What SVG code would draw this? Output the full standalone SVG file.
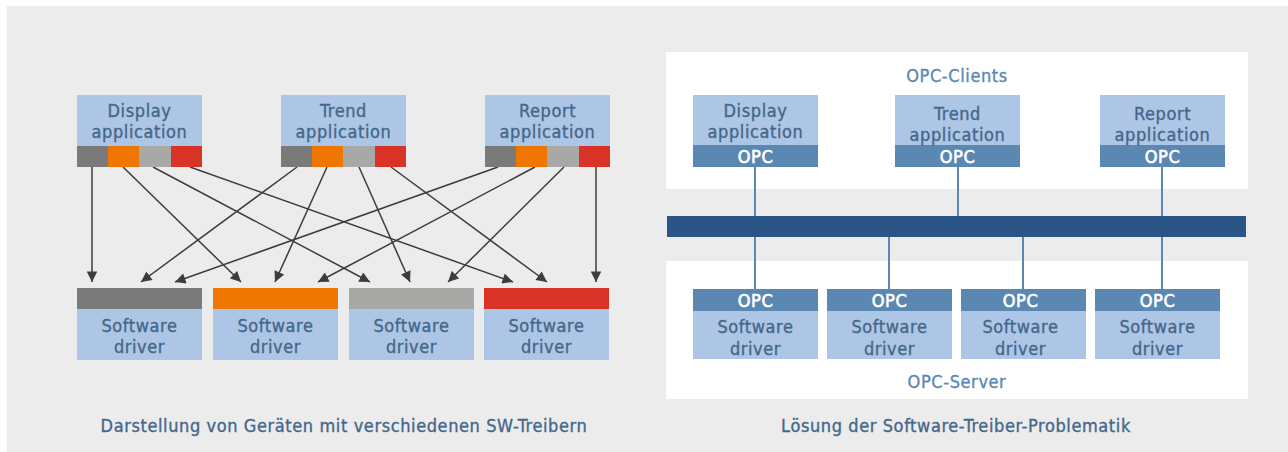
<svg xmlns="http://www.w3.org/2000/svg" width="1288" height="452" viewBox="0 0 1288 452">
<defs>
<style>
.t{font-family:"DejaVu Sans Condensed","DejaVu Sans",sans-serif;font-size:18px;letter-spacing:0.6px;fill:#44678a;stroke:#44678a;stroke-width:0.35px;text-anchor:middle;dominant-baseline:central}
.w{fill:#ffffff;stroke:#ffffff;stroke-width:0.6px}
.hd{fill:#5b88b2;stroke:#5b88b2}
.lb{fill:#adc6e6}
.db{fill:#5b88b2}
.g1{fill:#7a7a7a}
.or{fill:#ef7600}
.g2{fill:#a8a8a7}
.rd{fill:#d93327}
.arr{stroke:#3c3c3c;stroke-width:1.5;fill:none;marker-end:url(#ah)}
.ln{stroke:#5b88b2;stroke-width:2;fill:none}
</style>
<marker id="ah" viewBox="0 0 10 10" refX="10" refY="5" markerWidth="7.5" markerHeight="7" orient="auto" markerUnits="strokeWidth">
<path d="M0,0 L10,5 L0,10 z" fill="#3c3c3c"/>
</marker>
</defs>
<rect x="7" y="6" width="1281" height="446" fill="#ececec"/>
<rect x="666" y="52" width="582" height="137" fill="#ffffff"/>
<rect x="666" y="261" width="582" height="138" fill="#ffffff"/>

<g id="connectors">
<line class="arr" x1="92" y1="167" x2="92" y2="282"/>
<line class="arr" x1="123" y1="167" x2="241" y2="282"/>
<line class="arr" x1="153" y1="167" x2="370" y2="282"/>
<line class="arr" x1="190" y1="167" x2="513" y2="282"/>
<line class="arr" x1="297" y1="167" x2="141" y2="282"/>
<line class="arr" x1="327" y1="167" x2="275" y2="282"/>
<line class="arr" x1="359" y1="167" x2="410" y2="282"/>
<line class="arr" x1="391" y1="167" x2="547" y2="282"/>
<line class="arr" x1="498" y1="167" x2="175" y2="282"/>
<line class="arr" x1="535" y1="167" x2="318" y2="282"/>
<line class="arr" x1="564" y1="167" x2="448" y2="282"/>
<line class="arr" x1="596" y1="167" x2="596" y2="282"/>
<line class="ln" x1="755" y1="167" x2="755" y2="216"/>
<line class="ln" x1="958" y1="167" x2="958" y2="216"/>
<line class="ln" x1="1162" y1="167" x2="1162" y2="216"/>
<line class="ln" x1="755" y1="237" x2="755" y2="289"/>
<line class="ln" x1="889" y1="237" x2="889" y2="289"/>
<line class="ln" x1="1023" y1="237" x2="1023" y2="289"/>
<line class="ln" x1="1162" y1="237" x2="1162" y2="289"/>
</g>

<g id="app-display-left">
<rect class="lb" x="77" y="95" width="125" height="51"/>
<rect class="g1" x="77" y="146" width="31" height="21"/>
<rect class="or" x="108" y="146" width="31" height="21"/>
<rect class="g2" x="139" y="146" width="32" height="21"/>
<rect class="rd" x="171" y="146" width="31" height="21"/>
<text class="t" x="139.5" y="110">Display</text>
<text class="t" x="139.5" y="131">application</text>
</g>
<g id="app-trend-left">
<rect class="lb" x="281" y="95" width="125" height="51"/>
<rect class="g1" x="281" y="146" width="31" height="21"/>
<rect class="or" x="312" y="146" width="31" height="21"/>
<rect class="g2" x="343" y="146" width="32" height="21"/>
<rect class="rd" x="375" y="146" width="31" height="21"/>
<text class="t" x="343.5" y="110">Trend</text>
<text class="t" x="343.5" y="131">application</text>
</g>
<g id="app-report-left">
<rect class="lb" x="485" y="95" width="125" height="51"/>
<rect class="g1" x="485" y="146" width="31" height="21"/>
<rect class="or" x="516" y="146" width="31" height="21"/>
<rect class="g2" x="547" y="146" width="32" height="21"/>
<rect class="rd" x="579" y="146" width="31" height="21"/>
<text class="t" x="547.5" y="110">Report</text>
<text class="t" x="547.5" y="131">application</text>
</g>

<g id="driver-1-left">
<rect class="g1" x="77" y="288" width="125" height="21"/>
<rect class="lb" x="77" y="309" width="125" height="51"/>
<text class="t" x="139.5" y="325">Software</text>
<text class="t" x="139.5" y="346">driver</text>
</g>
<g id="driver-2-left">
<rect class="or" x="213" y="288" width="125" height="21"/>
<rect class="lb" x="213" y="309" width="125" height="51"/>
<text class="t" x="275.5" y="325">Software</text>
<text class="t" x="275.5" y="346">driver</text>
</g>
<g id="driver-3-left">
<rect class="g2" x="349" y="288" width="125" height="21"/>
<rect class="lb" x="349" y="309" width="125" height="51"/>
<text class="t" x="411.5" y="325">Software</text>
<text class="t" x="411.5" y="346">driver</text>
</g>
<g id="driver-4-left">
<rect class="rd" x="484" y="288" width="125" height="21"/>
<rect class="lb" x="484" y="309" width="125" height="51"/>
<text class="t" x="546.5" y="325">Software</text>
<text class="t" x="546.5" y="346">driver</text>
</g>

<text class="t" x="344" y="425">Darstellung von Geräten mit verschiedenen SW-Treibern</text>
<text class="t" x="956" y="425">Lösung der Software-Treiber-Problematik</text>

<text class="t hd" x="957" y="75">OPC-Clients</text>
<text class="t hd" x="957" y="381">OPC-Server</text>

<g id="client-display">
<rect class="lb" x="693" y="95" width="125" height="50"/>
<rect class="db" x="693" y="145" width="125" height="22"/>
<text class="t" x="755.5" y="110">Display</text>
<text class="t" x="755.5" y="131">application</text>
<text class="t w" x="755.5" y="156">OPC</text>
</g>
<g id="client-trend">
<rect class="lb" x="895" y="95" width="125" height="50"/>
<rect class="db" x="895" y="145" width="125" height="22"/>
<text class="t" x="957.5" y="113">Trend</text>
<text class="t" x="957.5" y="134">application</text>
<text class="t w" x="957.5" y="156">OPC</text>
</g>
<g id="client-report">
<rect class="lb" x="1100" y="95" width="125" height="50"/>
<rect class="db" x="1100" y="145" width="125" height="22"/>
<text class="t" x="1162.5" y="113">Report</text>
<text class="t" x="1162.5" y="134">application</text>
<text class="t w" x="1162.5" y="156">OPC</text>
</g>

<g id="bus">
<rect x="667" y="216" width="579" height="21" fill="#2c5587"/>
</g>

<g id="server-1">
<rect class="db" x="693" y="289" width="125" height="22"/>
<rect class="lb" x="693" y="311" width="125" height="48"/>
<text class="t w" x="755.5" y="300">OPC</text>
<text class="t" x="755.5" y="326">Software</text>
<text class="t" x="755.5" y="348">driver</text>
</g>
<g id="server-2">
<rect class="db" x="827" y="289" width="125" height="22"/>
<rect class="lb" x="827" y="311" width="125" height="48"/>
<text class="t w" x="889.5" y="300">OPC</text>
<text class="t" x="889.5" y="326">Software</text>
<text class="t" x="889.5" y="348">driver</text>
</g>
<g id="server-3">
<rect class="db" x="961" y="289" width="125" height="22"/>
<rect class="lb" x="961" y="311" width="125" height="48"/>
<text class="t w" x="1020.5" y="300">OPC</text>
<text class="t" x="1020.5" y="326">Software</text>
<text class="t" x="1020.5" y="348">driver</text>
</g>
<g id="server-4">
<rect class="db" x="1095" y="289" width="125" height="22"/>
<rect class="lb" x="1095" y="311" width="125" height="48"/>
<text class="t w" x="1157.5" y="300">OPC</text>
<text class="t" x="1157.5" y="326">Software</text>
<text class="t" x="1157.5" y="348">driver</text>
</g>
</svg>
